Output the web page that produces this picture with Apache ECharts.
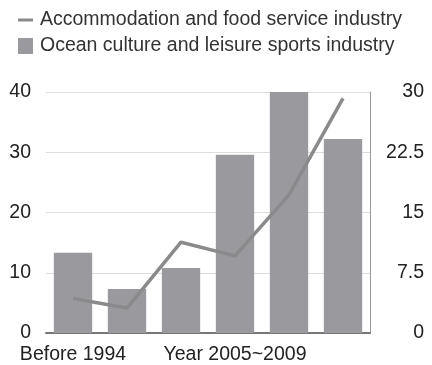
<!DOCTYPE html>
<html><head><meta charset="utf-8">
<script src="https://cdn.jsdelivr.net/npm/echarts@6/dist/echarts.min.js"></script>
<style>html,body{margin:0;padding:0;background:#fff}#c{width:432px;height:365px}</style>
</head><body><div id="c"></div>
<script>
const categories = ['Before 1994', '1995~1999', '2000~2004', 'Year 2005~2009', '2010~2014', '2015~2019'];
const oceanCulture = [13.3, 7.3, 10.8, 29.6, 40, 32.2];
const accommodation = [4.3, 3.1, 11.3, 9.6, 17.2, 29.2];
const leftTicks = [0, 10, 20, 30, 40];
const rightTicks = [0, 7.5, 15, 22.5, 30];
const names = ['Accommodation and food service industry', 'Ocean culture and leisure sports industry'];

const chart = echarts.init(document.getElementById('c'), null, {renderer: 'canvas'});
const font = 'Liberation Sans, Arial, sans-serif';
const fs = 19.5;
chart.setOption({
  animation: false,
  textStyle: {fontFamily: font},
  legend: {
    orient: 'vertical', left: 13, top: 5, itemWidth: 15, itemHeight: 16, itemGap: 6,
    textStyle: {fontSize: fs, color: '#333', fontFamily: font, padding: [0, 0, 0, 2]},
    data: [
      {name: names[0], icon: 'path://M0,0L0,0M0,6.5L15,6.5L15,9.5L0,9.5ZM15,16L15,16', itemStyle: {color: '#8a8a8c'}},
      {name: names[1], icon: 'rect', itemStyle: {color: '#9a9a9e'}}
    ]
  },
  grid: {left: 46, right: 62, top: 92, bottom: 32, containLabel: false},
  xAxis: {
    type: 'category', data: categories,
    axisTick: {show: false},
    axisLine: {lineStyle: {color: '#777', width: 2}},
    axisLabel: {interval: 2, fontSize: fs, color: '#222', margin: 12, fontFamily: font}
  },
  yAxis: [{
    type: 'value', min: leftTicks[0], max: leftTicks[leftTicks.length - 1], interval: leftTicks[1] - leftTicks[0],
    axisLine: {show: false}, axisTick: {show: false},
    axisLabel: {fontSize: fs, color: '#222', margin: 15, fontFamily: font},
    splitLine: {lineStyle: {color: '#ddd', width: 1}}
  }, {
    type: 'value', position: 'right', min: rightTicks[0], max: rightTicks[rightTicks.length - 1], interval: rightTicks[1] - rightTicks[0],
    axisLine: {show: true, lineStyle: {color: '#999', width: 1}}, axisTick: {show: false},
    axisLabel: {fontSize: fs, color: '#222', margin: 54, align: 'right', fontFamily: font},
    splitLine: {show: false}
  }],
  series: [{
    name: names[1], type: 'bar', data: oceanCulture, yAxisIndex: 0,
    barCategoryGap: '29%', itemStyle: {color: '#9a9a9e'}
  }, {
    name: names[0], type: 'line', data: accommodation, yAxisIndex: 1,
    symbol: 'none', lineStyle: {color: '#8a8a8c', width: 3.5}, itemStyle: {color: '#8a8a8c'}
  }]
});
</script></body></html>
